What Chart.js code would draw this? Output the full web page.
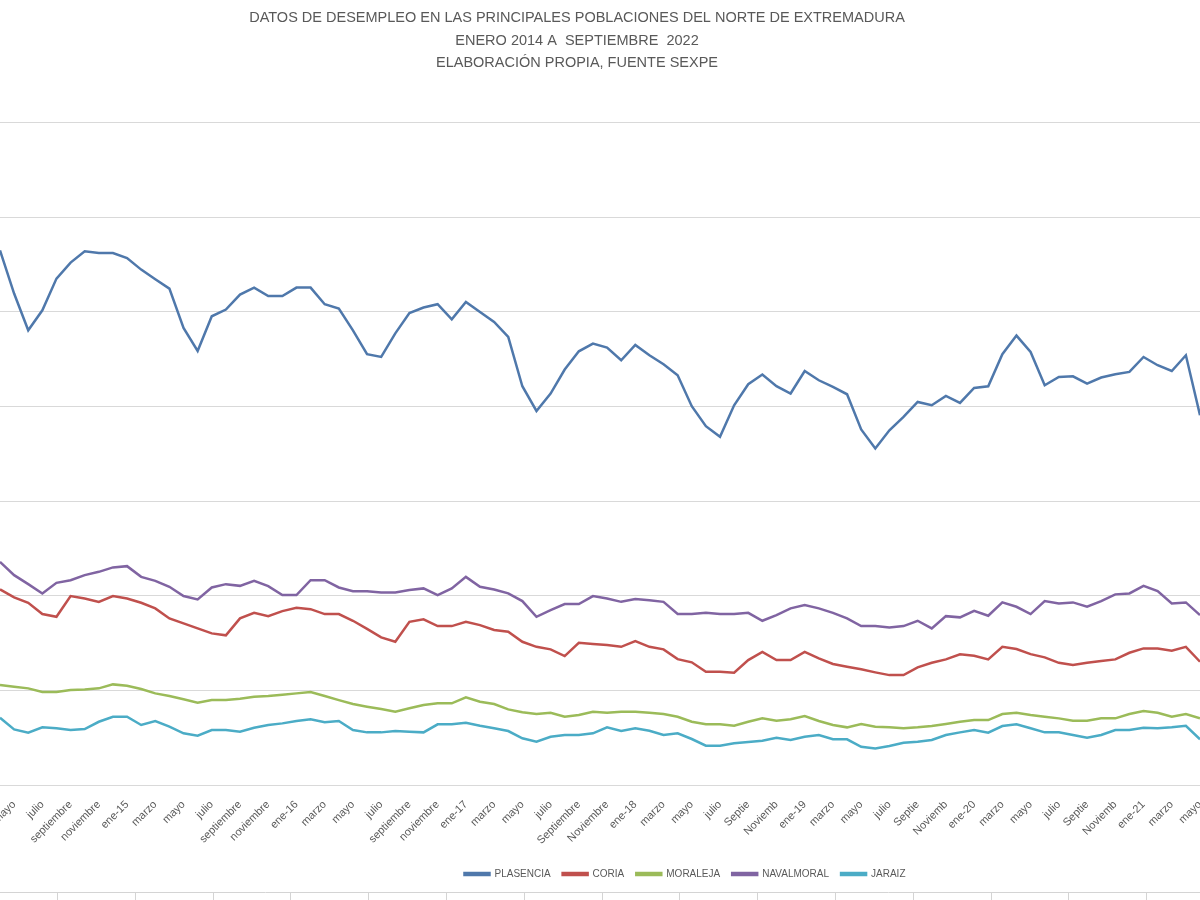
<!DOCTYPE html>
<html>
<head>
<meta charset="utf-8">
<script src="https://cdn.jsdelivr.net/npm/chart.js@4.4.0/dist/chart.umd.min.js"></script>
<style>
    html, body { margin: 0; padding: 0; background: #fff; overflow: hidden; }
    #wrap { position: absolute; left: -46px; top: 0; width: 1246px; height: 900px; }
</style>
</head>
<body>
<div id="wrap"><canvas id="grafico"></canvas></div>
<script>
// meses visibles (abril 2014 - mayo 2021)
const meses = ['abril','mayo','junio','julio','agosto','septiembre','octubre','noviembre','diciembre',
    'ene-15','febrero','marzo','abril','mayo','junio','julio','agosto','septiembre','octubre','noviembre','diciembre',
    'ene-16','febrero','marzo','abril','mayo','junio','julio','agosto','septiembre','octubre','noviembre','diciembre',
    'ene-17','febrero','marzo','abril','mayo','junio','julio','agosto','Septiembre','Octubre','Noviembre','Diciembre',
    'ene-18','febrero','marzo','abril','mayo','junio','julio','agosto','Septie','Octubr','Noviemb','Diciemb',
    'ene-19','febrero','marzo','abril','mayo','junio','julio','agosto','Septie','Octubr','Noviemb','Diciemb',
    'ene-20','febrero','marzo','abril','mayo','junio','julio','agosto','Septie','Octubr','Noviemb','Diciemb',
    'ene-21','febrero','marzo','abril','mayo'];

const plasencia = [5649, 5192, 4804, 5015, 5350, 5519, 5638, 5620, 5620, 5567, 5445, 5343, 5244, 4828, 4586, 4952, 5023, 5181, 5255, 5166, 5166, 5255, 5255, 5079, 5033, 4804, 4551, 4522, 4772,
    4987, 5044, 5079, 4920, 5103, 4997, 4892, 4733, 4213, 3952, 4136, 4389, 4582, 4664, 4621, 4487, 4649, 4540, 4445, 4329, 4002, 3791, 3678, 4012, 4234, 4336, 4213, 4136,
    4374, 4276, 4205, 4128, 3756, 3555, 3748, 3889, 4047, 4012, 4110, 4037, 4195, 4213, 4551, 4748, 4575, 4223, 4311, 4318, 4241, 4305, 4340, 4364, 4522, 4435, 4374, 4540, 3907];
const coria = [2066, 1982, 1925, 1806, 1777, 1996, 1971, 1935, 1996, 1971, 1925, 1866, 1760, 1707, 1654, 1602, 1581, 1760, 1819, 1784, 1837, 1872, 1858, 1806, 1806, 1735, 1650, 1559, 1513,
    1724, 1750, 1679, 1679, 1724, 1689, 1637, 1619, 1513, 1460, 1433, 1362, 1502, 1489, 1478, 1460, 1520, 1460, 1433, 1330, 1296, 1196, 1196, 1186, 1320, 1407, 1320, 1320,
    1407, 1338, 1278, 1249, 1222, 1190, 1161, 1161, 1243, 1291, 1327, 1380, 1365, 1327, 1460, 1436, 1383, 1348, 1291, 1267, 1291, 1309, 1327, 1397, 1443, 1443, 1418, 1460, 1302];
const moraleja = [1056, 1038, 1021, 982, 982, 1003, 1010, 1021, 1063, 1048, 1014, 968, 940, 905, 869, 897, 897, 911, 932, 940, 953, 968, 982, 940, 897, 855, 827, 802, 774,
    810, 845, 863, 863, 926, 879, 855, 799, 768, 750, 763, 721, 739, 774, 763, 774, 774, 763, 750, 721, 668, 641, 641, 626, 668, 704, 679, 694,
    729, 676, 634, 609, 644, 616, 609, 599, 609, 623, 644, 668, 686, 686, 750, 763, 739, 721, 704, 679, 679, 704, 704, 750, 781, 763, 721, 750, 704];
const navalmoral = [2358, 2217, 2122, 2024, 2136, 2164, 2217, 2252, 2299, 2312, 2199, 2157, 2094, 1996, 1961, 2087, 2122, 2104, 2157, 2101, 2006, 2006, 2164, 2164, 2087, 2048, 2048, 2035, 2035,
    2059, 2077, 2006, 2077, 2199, 2094, 2066, 2024, 1943, 1777, 1848, 1911, 1911, 1996, 1971, 1935, 1964, 1953, 1935, 1806, 1806, 1819, 1806, 1806, 1819, 1735, 1795, 1866,
    1901, 1866, 1819, 1760, 1679, 1679, 1665, 1679, 1735, 1654, 1784, 1771, 1840, 1788, 1929, 1883, 1806, 1943, 1918, 1929, 1883, 1943, 2014, 2024, 2104, 2048, 1918, 1929, 1795];
const jaraiz = [711, 588, 552, 609, 599, 581, 591, 668, 721, 721, 634, 676, 616, 546, 521, 581, 581, 563, 605, 634, 651, 676, 694, 662, 676, 581, 556, 556, 570,
    563, 556, 641, 641, 658, 626, 599, 570, 493, 457, 510, 528, 528, 546, 609, 570, 599, 573, 528, 546, 486, 415, 415, 440, 454, 468, 499, 475,
    510, 528, 483, 483, 404, 387, 412, 447, 457, 475, 528, 556, 581, 552, 623, 641, 599, 556, 556, 528, 499, 528, 581, 581, 605, 599, 609, 626, 483];

const titulo = ['DATOS DE DESEMPLEO EN LAS PRINCIPALES POBLACIONES DEL NORTE DE EXTREMADURA',
    'ENERO 2014 A  SEPTIEMBRE  2022',
    'ELABORACIÓN PROPIA, FUENTE SEXPE'];

const gris = '#595959';
const rejilla = '#d9d9d9';

function serie(nombre, datos, color) {
    return {
        label: nombre,
        data: datos,
        borderColor: color,
        backgroundColor: color,
        borderWidth: 2.5,
        pointRadius: 0,
        tension: 0
    };
}

// desplaza la leyenda a la derecha como en el original
const moverLeyenda = {
    id: 'moverLeyenda',
    afterLayout(chart) {
        chart.legend.left += 108;
        chart.legend.right += 108;
    }
};

// borde inferior y celdas de la hoja
const celdas = {
    id: 'celdas',
    afterDraw(chart) {
        const ctx = chart.ctx;
        ctx.save();
        ctx.strokeStyle = '#d4d4d4';
        ctx.lineWidth = 1;
        ctx.beginPath();
        ctx.moveTo(0, 892.5);
        ctx.lineTo(chart.width, 892.5);
        for (let x = 46 + 57; x < chart.width; x += 77.8) {
            ctx.moveTo(Math.round(x) + 0.5, 893);
            ctx.lineTo(Math.round(x) + 0.5, 900);
        }
        ctx.stroke();
        ctx.restore();
    }
};

new Chart(document.getElementById('grafico'), {
    type: 'line',
    data: {
        labels: meses,
        datasets: [
            serie('PLASENCIA', plasencia, '#4f78ab'),
            serie('CORIA', coria, '#c0504d'),
            serie('MORALEJA', moraleja, '#9bbb59'),
            serie('NAVALMORAL', navalmoral, '#8064a2'),
            serie('JARAIZ', jaraiz, '#4bacc6')
        ]
    },
    options: {
        responsive: true,
        maintainAspectRatio: false,
        animation: false,
        layout: { padding: { top: 0, bottom: 11, left: 0, right: 0 } },
        plugins: {
            title: {
                display: true,
                text: titulo,
                color: gris,
                font: { family: 'Liberation Sans', size: 14.5, weight: 'normal', lineHeight: 1.55 },
                padding: { top: 7, bottom: 48 }
            },
            legend: {
                position: 'bottom',
                labels: {
                    color: gris,
                    font: { family: 'Liberation Sans', size: 10 },
                    boxWidth: 25,
                    boxHeight: 2,
                    padding: 12
                }
            },
            tooltip: { enabled: false }
        },
        scales: {
            x: {
                grid: { display: false },
                border: { display: true, color: rejilla },
                ticks: {
                    autoSkip: false,
                    minRotation: 45,
                    maxRotation: 45,
                    padding: 5,
                    color: gris,
                    font: { family: 'Liberation Sans', size: 11 },
                    callback: function(value, index) {
                        return index % 2 === 1 ? this.getLabelForValue(value) : '';
                    }
                },
                afterFit: function(scale) {
                    scale.height = 72;
                    scale.paddingLeft = 0;
                    scale.paddingRight = 0;
                }
            },
            y: {
                min: 0,
                max: 7000,
                ticks: { stepSize: 1000, display: false },
                grid: { color: rejilla, drawTicks: false },
                border: { display: false },
                afterFit: function(scale) { scale.width = 46; }
            }
        }
    },
    plugins: [moverLeyenda, celdas]
});
</script>
</body>
</html>
